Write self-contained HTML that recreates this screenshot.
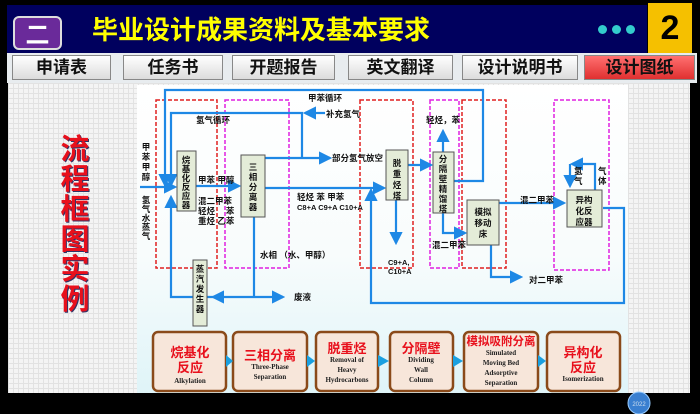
<!DOCTYPE html>
<html><head><meta charset="utf-8"><style>
body{margin:0;width:700px;height:414px;background:#000;overflow:hidden;position:relative;font-family:"Liberation Sans","Noto Sans CJK SC",sans-serif}
.abs{position:absolute}
.tab{position:absolute;top:55px;height:25px;background:linear-gradient(#fff,#dcdcdc);border:1px solid #888;box-sizing:border-box;font:bold 17px "Liberation Sans","Noto Sans CJK SC",sans-serif;text-align:center;line-height:24px;color:#111}
</style></head><body>
<div class="abs" style="left:7px;top:5px;width:640px;height:48px;background:#00005e"></div>
<div class="abs" style="left:13px;top:16px;width:49px;height:34px;background:#6a2a9a;border:2px solid #ddd;border-radius:6px;box-sizing:border-box;color:#fff;font:bold 24px 'Noto Sans CJK SC',sans-serif;text-align:center;line-height:30px">二</div>
<div class="abs" style="left:92px;top:12px;color:#ff0;font:bold 26px 'Noto Sans CJK SC',sans-serif;line-height:34px">毕业设计成果资料及基本要求</div>
<div class="abs" style="left:598px;top:25px;width:9px;height:9px;border-radius:50%;background:#3cc"></div>
<div class="abs" style="left:612px;top:25px;width:9px;height:9px;border-radius:50%;background:#3cc"></div>
<div class="abs" style="left:626px;top:25px;width:9px;height:9px;border-radius:50%;background:#3cc"></div>
<div class="abs" style="left:648px;top:3px;width:44px;height:50px;background:#f5c000;font:bold 34px 'Liberation Sans',sans-serif;text-align:center;line-height:50px;color:#000">2</div>
<div class="abs" style="left:7px;top:53px;width:690px;height:30px;background:#e8ecef"></div>
<div class="tab" style="left:12px;width:99px">申请表</div>
<div class="tab" style="left:123px;width:100px">任务书</div>
<div class="tab" style="left:232px;width:103px">开题报告</div>
<div class="tab" style="left:348px;width:105px">英文翻译</div>
<div class="tab" style="left:462px;width:116px">设计说明书</div>
<div class="tab" style="left:584px;width:111px;background:linear-gradient(#ff7070,#e03030)">设计图纸</div>
<div class="abs" style="left:8px;top:83px;width:682px;height:310px;background-color:#f4f4f4;background-image:linear-gradient(#e2e2e2 1px,transparent 1px),linear-gradient(90deg,#e2e2e2 1px,transparent 1px);background-size:5px 5px"></div>
<div class="abs" style="left:55px;top:132px;width:40px;color:#e8101c;font:bold 29px 'Noto Sans CJK SC',sans-serif;line-height:30px;text-align:center;text-shadow:1px 1px 0 #336">流<br>程<br>框<br>图<br>实<br>例</div>
<div class="abs" style="left:137px;top:85px;width:491px;height:308px;background:linear-gradient(#fff 0%,#f8fcfc 55%,#dff4f8 100%)"></div>
<svg class="abs" style="left:0;top:0" width="700" height="414" font-family="Liberation Sans,Noto Sans CJK SC,sans-serif">
<defs><marker id="a" markerWidth="6" markerHeight="6" refX="5" refY="3" orient="auto"><path d="M0,0L6,3L0,6z" fill="#1e88e5"/></marker></defs>
<g fill="none" stroke-dasharray="4,2" stroke-width="1.5">
<rect x="156" y="100" width="61" height="168" stroke="#e02020"/>
<rect x="225" y="100" width="64" height="168" stroke="#e020e0"/>
<rect x="360" y="100" width="53" height="168" stroke="#e02020"/>
<rect x="430" y="100" width="29" height="168" stroke="#e020e0"/>
<rect x="462" y="100" width="44" height="168" stroke="#e02020"/>
<rect x="554" y="100" width="55" height="170" stroke="#e020e0"/>
</g>
<g fill="none" stroke="#1e88e5" stroke-width="2.2">
<path d="M454,181H483V90H165V185" marker-end="url(#a)"/>
<path d="M302,158V113H171V185" marker-end="url(#a)"/>
<path d="M325,113H305" marker-end="url(#a)"/>
<path d="M265,158H330" marker-end="url(#a)"/>
<path d="M140,187H175" marker-end="url(#a)"/>
<path d="M196,186H239" marker-end="url(#a)"/>
<path d="M265,188H384" marker-end="url(#a)"/>
<path d="M254,217V297"/>
<path d="M254,297H283" marker-end="url(#a)"/>
<path d="M254,297H213" marker-end="url(#a)"/>
<path d="M213,297H171V197" marker-end="url(#a)"/>
<path d="M603,208H624V303H371V190" marker-end="url(#a)"/>
<path d="M396,200V243" marker-end="url(#a)"/>
<path d="M408,165H431" marker-end="url(#a)"/>
<path d="M443,152V131" marker-end="url(#a)"/>
<path d="M443,213V233H465" marker-end="url(#a)"/>
<path d="M499,203H564" marker-end="url(#a)"/>
<path d="M491,245V277H521" marker-end="url(#a)"/>
<path d="M595,190V164H572" marker-end="url(#a)"/>
<path d="M570,164V186" marker-end="url(#a)"/>
</g>
<g fill="#e4ecd8" stroke="#555" stroke-width="1">
<rect x="177" y="151" width="19" height="60"/>
<rect x="241" y="155" width="24" height="62"/>
<rect x="386" y="150" width="22" height="50"/>
<rect x="433" y="152" width="21" height="61"/>
<rect x="467" y="200" width="32" height="45"/>
<rect x="567" y="190" width="35" height="37"/>
<rect x="193" y="260" width="14" height="66"/>
</g>
<g font-size="8.5" fill="#111" font-weight="bold">
<text x="186" y="163" text-anchor="middle"><tspan x="186">烷</tspan><tspan x="186" dy="9">基</tspan><tspan x="186" dy="9">化</tspan><tspan x="186" dy="9">反</tspan><tspan x="186" dy="9">应</tspan><tspan x="186" dy="9">器</tspan></text>
<text x="253" y="170" text-anchor="middle"><tspan x="253">三</tspan><tspan x="253" dy="10">相</tspan><tspan x="253" dy="10">分</tspan><tspan x="253" dy="10">离</tspan><tspan x="253" dy="10">器</tspan></text>
<text x="397" y="166" text-anchor="middle"><tspan x="397">脱</tspan><tspan x="397" dy="11">重</tspan><tspan x="397" dy="11">烃</tspan><tspan x="397" dy="11">塔</tspan></text>
<text x="443" y="162" text-anchor="middle"><tspan x="443">分</tspan><tspan x="443" dy="10">隔</tspan><tspan x="443" dy="10">壁</tspan><tspan x="443" dy="10">精</tspan><tspan x="443" dy="10">馏</tspan><tspan x="443" dy="10">塔</tspan></text>
<text x="483" y="215" text-anchor="middle"><tspan x="483">模拟</tspan><tspan x="483" dy="11">移动</tspan><tspan x="483" dy="11">床</tspan></text>
<text x="584" y="203" text-anchor="middle"><tspan x="584">异构</tspan><tspan x="584" dy="11">化反</tspan><tspan x="584" dy="11">应器</tspan></text>
<text x="200" y="272" text-anchor="middle"><tspan x="200">蒸</tspan><tspan x="200" dy="10">汽</tspan><tspan x="200" dy="10">发</tspan><tspan x="200" dy="10">生</tspan><tspan x="200" dy="10">器</tspan></text>
<text x="146" y="150" text-anchor="middle"><tspan x="146">甲</tspan><tspan x="146" dy="10">苯</tspan><tspan x="146" dy="10">甲</tspan><tspan x="146" dy="10">醇</tspan></text>
<text x="146" y="203" text-anchor="middle"><tspan x="146">氢</tspan><tspan x="146" dy="9">气</tspan><tspan x="146" dy="9">水</tspan><tspan x="146" dy="9">蒸</tspan><tspan x="146" dy="9">气</tspan></text>
<text x="308" y="101">甲苯循环</text>
<text x="196" y="123">氢气循环</text>
<text x="326" y="117">补充氢气</text>
<text x="332" y="161">部分氢气放空</text>
<text x="198" y="183">甲苯 甲醇</text>
<text x="198" y="204">混二甲苯</text>
<text x="198" y="214">轻烃　 苯</text>
<text x="198" y="224">重烃 乙苯</text>
<text x="297" y="200">轻烃 苯 甲苯</text>
<text x="297" y="210" font-size="7.5">C8+A C9+A  C10+A</text>
<text x="260" y="258">水相 （水、甲醇）</text>
<text x="294" y="300">废液</text>
<text x="388" y="265" font-size="7.5">C9+A,</text>
<text x="388" y="274" font-size="7.5">C10+A</text>
<text x="426" y="123">轻烃，苯</text>
<text x="432" y="248">混二甲苯</text>
<text x="520" y="203">混二甲苯</text>
<text x="529" y="283">对二甲苯</text>
<text x="574" y="174">氢</text><text x="574" y="184">气</text>
<text x="598" y="174">气</text><text x="598" y="184">体</text>
</g>
<g stroke="#8a4a1a" stroke-width="2.5" fill="#f7e6da">
<rect x="153" y="332" width="73" height="59" rx="5"/>
<rect x="233" y="332" width="74" height="59" rx="5"/>
<rect x="316" y="332" width="62" height="59" rx="5"/>
<rect x="390" y="332" width="63" height="59" rx="5"/>
<rect x="464" y="332" width="74" height="59" rx="5"/>
<rect x="547" y="332" width="73" height="59" rx="5"/>
</g>
<g fill="#1aa0e0"><path d="M226,355l7,6l-7,6z"/><path d="M307,355l8,6l-8,6z"/><path d="M378,355l11,6l-11,6z"/><path d="M453,355l10,6l-10,6z"/><path d="M538,355l8,6l-8,6z"/></g>
<g text-anchor="middle" font-family="Noto Sans CJK SC,sans-serif" font-weight="bold" fill="#e8101c">
<text x="190" y="357" font-size="13">烷基化</text><text x="190" y="372" font-size="13">反应</text>
<text x="270" y="360" font-size="13">三相分离</text>
<text x="347" y="353" font-size="13">脱重烃</text>
<text x="421" y="353" font-size="13">分隔壁</text>
<text x="501" y="345" font-size="11.5">模拟吸附分离</text>
<text x="583" y="357" font-size="13">异构化</text><text x="583" y="372" font-size="13">反应</text>
</g>
<g text-anchor="middle" font-family="Liberation Serif,serif" font-weight="bold" font-size="7" fill="#222">
<text x="190" y="383">Alkylation</text>
<text x="270" y="369">Three-Phase</text><text x="270" y="379">Separation</text>
<text x="347" y="362">Removal of</text><text x="347" y="372">Heavy</text><text x="347" y="382">Hydrocarbons</text>
<text x="421" y="362">Dividing</text><text x="421" y="372">Wall</text><text x="421" y="382">Column</text>
<text x="501" y="355">Simulated</text><text x="501" y="365">Moving Bed</text><text x="501" y="375">Adsorptive</text><text x="501" y="385">Separation</text>
<text x="583" y="381">Isomerization</text>
</g>
<circle cx="639" cy="403" r="11" fill="#3a7fd0" stroke="#9cf"/>
<text x="639" y="406" font-size="6" fill="#cde" text-anchor="middle">2022</text>
</svg>
</body></html>
